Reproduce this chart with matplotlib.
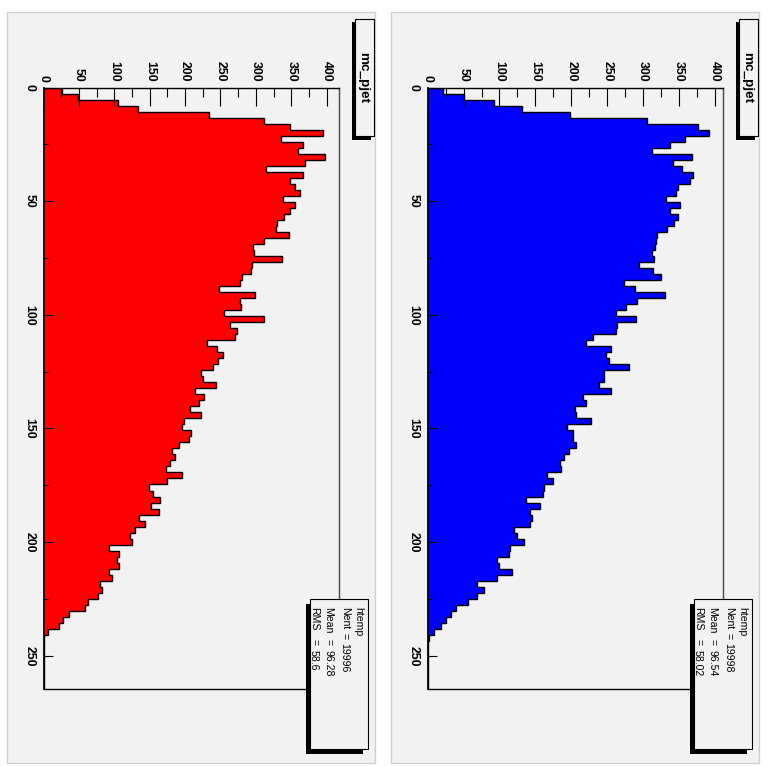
import numpy as np
import matplotlib.pyplot as plt
from matplotlib.patches import Rectangle
from matplotlib.ticker import MultipleLocator

plt.rcParams['font.family'] = ['Liberation Sans', 'DejaVu Sans']
plt.rcParams['font.weight'] = 'bold'

# mc_pjet histograms, 100 bins each
nbins = 100
pjet_lo, pjet_hi = 0.0, 264.6

counts_red = [26, 48, 105, 134, 234, 312, 348, 395, 336, 366,
              360, 398, 369, 315, 366, 349, 355, 363, 338, 356,
              348, 340, 330, 328, 347, 312, 296, 298, 337, 295,
              293, 280, 277, 248, 299, 278, 279, 255, 311, 263,
              273, 270, 231, 245, 254, 246, 239, 222, 225, 244,
              214, 226, 220, 207, 223, 198, 196, 209, 206, 191,
              182, 185, 178, 173, 196, 174, 149, 154, 165, 152,
              163, 135, 143, 129, 122, 125, 93, 107, 103, 106,
              93, 96, 80, 82, 77, 62, 58, 36, 27, 21,
              6, 1, 0, 0, 0, 0, 0, 0, 0, 1]

counts_blue = [22, 51, 93, 132, 198, 306, 377, 392, 359, 338,
               313, 368, 342, 354, 369, 365, 348, 346, 332, 351,
               337, 349, 343, 333, 320, 318, 316, 313, 315, 294,
               314, 325, 274, 289, 330, 291, 276, 262, 290, 263,
               262, 230, 221, 256, 248, 252, 280, 246, 246, 238,
               255, 217, 220, 205, 207, 227, 194, 203, 202, 206,
               197, 190, 184, 186, 166, 175, 162, 161, 137, 157,
               143, 145, 142, 120, 125, 134, 115, 113, 96, 99,
               117, 96, 68, 79, 68, 56, 40, 32, 26, 18,
               9, 2, 0, 0, 0, 0, 0, 0, 0, 1]

stat_names = ["Nent", "Mean", "RMS"]
stats_red = ["19996", "96.28", "58.6"]
stats_blue = ["19998", "96.54", "58.02"]

W, H = 771, 766
BG = "#f2f2f2"

fig = plt.figure(figsize=(W / 100, H / 100), dpi=100)
fig.patch.set_facecolor("white")


def rect(x0, y0, x1, y1, **kw):
    # rectangle given in canvas pixels (y downwards)
    r = Rectangle((x0 / W, 1 - y1 / H), (x1 - x0) / W, (y1 - y0) / H,
                  transform=fig.transFigure, **kw)
    fig.add_artist(r)


def vtext(x, y, s, **kw):
    fig.text(x / W, 1 - y / H, s, rotation=-90, rotation_mode="anchor",
             ha="left", va="center", **kw)


def draw_pad(dx, counts, color, stats):
    counts = np.array(counts)
    edges = np.linspace(pjet_lo, pjet_hi, nbins + 1)

    # pad background
    rect(7 + dx, 12, 375 + dx, 763, facecolor=BG, edgecolor="#cfcfcf", lw=1, zorder=0)

    ax = fig.add_axes([(43.7 + dx) / W, 1 - 689 / H, 295.5 / W, 601.5 / H])
    ax.set_facecolor(BG)
    # fill drawn in two pieces, then the black outline on top
    ax.stairs(counts[:49], edges[:50], orientation="horizontal", fill=True,
              color=color, lw=0)
    ax.stairs(counts[49:], edges[49:], orientation="horizontal", fill=True,
              color=color, lw=0)
    ax.stairs(counts, edges, orientation="horizontal", color="black", lw=1.0)

    ax.set_xlim(0, 1.05 * counts.max())
    ax.set_ylim(pjet_hi, pjet_lo)

    ax.xaxis.tick_top()
    ax.xaxis.set_major_locator(MultipleLocator(50))
    ax.xaxis.set_minor_locator(MultipleLocator(25))
    ax.yaxis.set_major_locator(MultipleLocator(50))
    ax.yaxis.set_minor_locator(MultipleLocator(25))
    ax.tick_params(axis="x", which="major", direction="in", length=13, width=0.8,
                   pad=4, labelsize=8.8, labelrotation=-90)
    ax.tick_params(axis="x", which="minor", direction="in", length=6.5, width=0.8)
    ax.tick_params(axis="y", which="major", direction="in", length=6.5, width=0.8,
                   pad=6, labelsize=8.8, labelrotation=-90)
    ax.tick_params(axis="y", which="minor", direction="in", length=3.2, width=0.8)
    for lab in ax.get_yticklabels():
        lab.set_va("center")

    for side in ("top", "bottom", "left"):
        ax.spines[side].set_linewidth(1.0)
        ax.spines[side].set_color("black")
    ax.spines["left"].set_linewidth(1.3)
    ax.spines["right"].set_linewidth(1.0)
    ax.spines["right"].set_color("#444444")

    # title box
    rect(351.7 + dx, 22, 370.5 + dx, 139.5, facecolor="black", edgecolor="none")
    rect(355 + dx, 19, 374 + dx, 136, facecolor=BG, edgecolor="black", lw=0.8)
    vtext(363.5 + dx, 52, "mc_pjet", fontsize=9.7)

    # statistics box
    rect(306 + dx, 604, 363 + dx, 753.5, facecolor="black", edgecolor="none")
    rect(310 + dx, 599, 368.3 + dx, 749.3, facecolor=BG, edgecolor="black", lw=0.8)
    vtext(358.3 + dx, 607, "htemp", fontsize=7.6, fontweight="normal")
    line_x = [344.7, 328.3, 314.0]
    eq_y = [633, 639, 639]
    val_y = [643, 650, 650]
    for lx, name, ey, vy, val in zip(line_x, stat_names, eq_y, val_y, stats):
        vtext(lx + dx, 607, name, fontsize=7.6, fontweight="normal")
        vtext(lx + dx, ey, "=", fontsize=7.6, fontweight="normal")
        vtext(lx + dx, vy, val, fontsize=7.6, fontweight="normal")


draw_pad(0, counts_red, "#ff0000", stats_red)
draw_pad(384, counts_blue, "#0000ff", stats_blue)

fig.savefig("out.png", dpi=100, facecolor=fig.get_facecolor())
